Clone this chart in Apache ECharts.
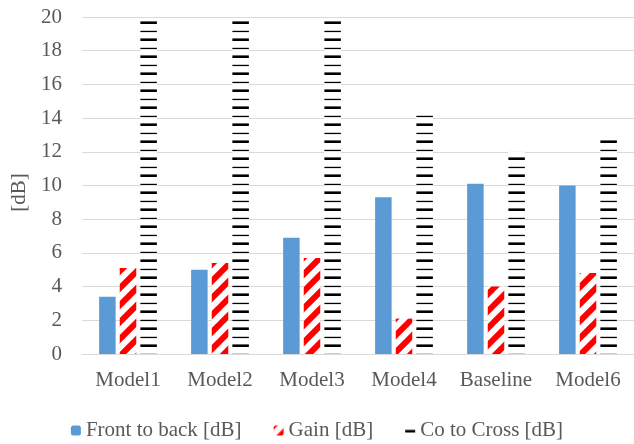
<!DOCTYPE html>
<html>
<head>
<meta charset="utf-8">
<script src="https://cdn.jsdelivr.net/npm/echarts@6/dist/echarts.min.js"></script>
<style>
html,body{margin:0;padding:0;background:#fff;}
#chart{width:634px;height:444px;}
</style>
</head>
<body>
<div id="chart"></div>
<script>
var categories = ['Model1', 'Model2', 'Model3', 'Model4', 'Baseline', 'Model6'];
var frontToBack = [3.4, 5.0, 6.9, 9.3, 10.1, 10.0];
var gain = [5.1, 5.4, 5.7, 2.1, 4.0, 4.8];
var coToCross = [19.8, 19.8, 19.8, 14.2, 12.0, 12.7];
var seriesNames = ['Front to back [dB]', 'Gain [dB]', 'Co to Cross [dB]'];

function stripePattern() {
  var s = 17;
  var c = document.createElement('canvas');
  c.width = s; c.height = s;
  var g = c.getContext('2d');
  g.fillStyle = '#ffffff';
  g.fillRect(0, 0, s, s);
  g.strokeStyle = '#ff0000';
  g.lineWidth = 6;
  for (var k = -1; k <= 1; k++) {
    g.beginPath();
    g.moveTo(k * s - 2, s + 2);
    g.lineTo(k * s + s + 2, -2);
    g.stroke();
  }
  return c;
}
function hLinePattern() {
  var c = document.createElement('canvas');
  c.width = 4; c.height = 17;
  var g = c.getContext('2d');
  g.fillStyle = '#ffffff';
  g.fillRect(0, 0, 4, 17);
  g.fillStyle = '#000000';
  g.fillRect(0, 4.4, 4, 2.6);
  g.fillRect(0, 13.8, 4, 1.3);
  return c;
}

var font = "'Liberation Serif', 'Times New Roman', serif";
var txt = '#595959';
var chart = echarts.init(document.getElementById('chart'), null, {renderer: 'canvas'});
chart.setOption({
  animation: false,
  backgroundColor: '#ffffff',
  grid: {left: 82, right: 0, top: 17, bottom: 90, containLabel: false},
  legend: {
    top: 415,
    left: 'center',
    itemWidth: 10,
    itemHeight: 10,
    itemGap: 32,
    textStyle: {fontFamily: font, fontSize: 21, color: txt},
    data: seriesNames
  },
  xAxis: {
    type: 'category',
    data: categories,
    axisTick: {show: false},
    axisLine: {lineStyle: {color: '#d9d9d9', width: 1}},
    axisLabel: {fontFamily: font, fontSize: 21, color: txt, margin: 16, interval: 0}
  },
  yAxis: {
    type: 'value',
    min: 0, max: 20, interval: 2,
    name: '[dB]',
    nameLocation: 'middle',
    nameGap: 44,
    nameTextStyle: {fontFamily: font, fontSize: 21, color: txt, padding: [0, 14, 0, 0]},
    axisLine: {show: false},
    axisTick: {show: false},
    splitLine: {lineStyle: {color: '#d9d9d9', width: 1}},
    axisLabel: {fontFamily: font, fontSize: 21, color: txt, margin: 20}
  },
  series: [
    {name: seriesNames[0], type: 'bar', data: frontToBack, barWidth: 16.5, barGap: '25%',
     itemStyle: {color: '#5b9bd5'}},
    {name: seriesNames[1], type: 'bar', data: gain, barWidth: 16.5, barGap: '25%',
     itemStyle: {color: {image: stripePattern(), repeat: 'repeat'}}},
    {name: seriesNames[2], type: 'bar', data: coToCross, barWidth: 16.5, barGap: '25%',
     itemStyle: {color: {image: hLinePattern(), repeat: 'repeat'}}}
  ]
});
</script>
</body>
</html>
